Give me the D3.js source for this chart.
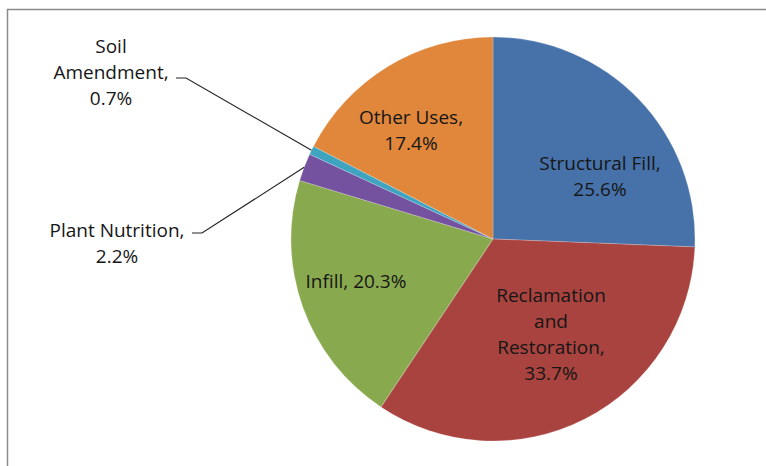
<!DOCTYPE html>
<html>
<head>
<meta charset="utf-8">
<script src="https://cdn.jsdelivr.net/npm/d3@7/dist/d3.min.js"></script>
<style>
  html, body { margin: 0; padding: 0; background: #fff; }
  svg { display: block; }
  text { font-family: "Open Sans", Lato, "Liberation Sans", sans-serif; font-size: 19px; fill: #161616; }
</style>
</head>
<body>
<svg id="chart" width="766" height="466"></svg>
<script>
// ---- data ----
const categories = ["Structural Fill", "Reclamation and Restoration", "Infill", "Plant Nutrition", "Soil Amendment", "Other Uses"];
const values = [25.6, 33.7, 20.3, 2.2, 0.7, 17.4];
const valueLabels = ["25.6%", "33.7%", "20.3%", "2.2%", "0.7%", "17.4%"];
const labelLines = [
  ["Structural Fill,", "25.6%"],
  ["Reclamation", "and", "Restoration,", "33.7%"],
  ["Infill, 20.3%"],
  ["Plant Nutrition,", "2.2%"],
  ["Soil", "Amendment,", "0.7%"],
  ["Other Uses,", "17.4%"]
];
const colors = ["#4672a9", "#a9433f", "#89a94e", "#7452a0", "#3ea4c0", "#e0873c"];

// ---- layout ----
const W = 766, H = 466;
const cx = 493, cy = 239, R = 202;
const lineH = 26;
// label block centre (x, y of first line) in pixels
const labelPos = [
  [600, 163],
  [551, 295],
  [356, 281],
  [117, 230],
  [111, 46],
  [411, 117]
];
const outside = [false, false, false, true, true, false];
// elbow start points of leader lines for outside labels
const leaderStart = { 3: [[192, 233], [202, 233]], 4: [[176, 78], [186, 78]] };

const svg = d3.select("#chart");

// frame border
svg.append("path")
  .attr("d", `M7.5,${H} V9.5 H${W}`)
  .attr("fill", "none")
  .attr("stroke", "#8a8a8a")
  .attr("stroke-width", 1.5);

const pie = d3.pie().sort(null).value(d => d)(values);
const arc = d3.arc().innerRadius(0).outerRadius(R);

const g = svg.append("g").attr("transform", `translate(${cx},${cy})`);
g.selectAll("path.slice")
  .data(pie)
  .join("path")
  .attr("class", "slice")
  .attr("d", arc)
  .attr("fill", (d, i) => colors[i])
  .attr("stroke", "rgba(255,255,255,0.35)")
  .attr("stroke-width", 0.6);

// leader lines
pie.forEach((d, i) => {
  if (!outside[i]) return;
  const mid = (d.startAngle + d.endAngle) / 2;
  const ex = cx + R * Math.sin(mid), ey = cy - R * Math.cos(mid);
  const pts = leaderStart[i].concat([[ex, ey]]);
  svg.append("path")
    .attr("d", d3.line()(pts))
    .attr("fill", "none")
    .attr("stroke", "#222")
    .attr("stroke-width", 1.1);
});

// labels
labelLines.forEach((lines, i) => {
  const t = svg.append("text")
    .attr("text-anchor", "middle")
    .attr("dominant-baseline", "central");
  lines.forEach((s, k) => {
    t.append("tspan")
      .attr("x", labelPos[i][0])
      .attr("y", labelPos[i][1] + k * lineH)
      .text(s);
  });
});
</script>
</body>
</html>
